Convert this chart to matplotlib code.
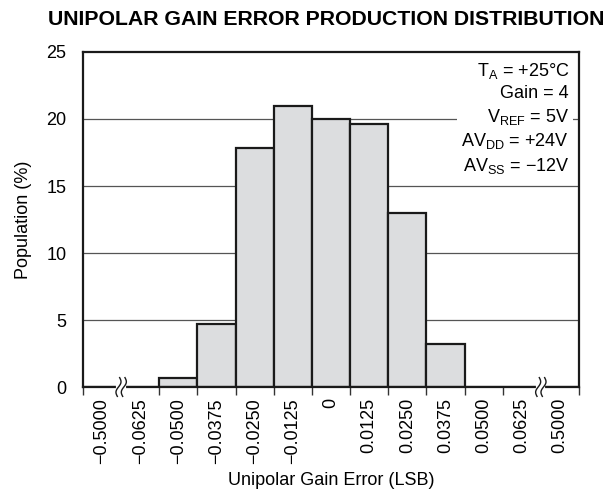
import numpy as np
import matplotlib
matplotlib.use('Agg')
import matplotlib.pyplot as plt
import matplotlib.transforms as mtransforms

plt.rcParams['font.family'] = ['Liberation Sans', 'DejaVu Sans']
plt.rcParams['mathtext.default'] = 'regular'

# gain error bins (LSB) and share of parts in each bin
bins = ['\u22120.5000', '\u22120.0625', '\u22120.0500', '\u22120.0375', '\u22120.0250',
        '\u22120.0125', '0', '0.0125', '0.0250', '0.0375', '0.0500', '0.0625', '0.5000']
population = [0, 0, 0.7, 4.7, 17.8, 21.0, 20.0, 19.6, 13.0, 3.2, 0, 0, 0]
breaks = [0.5, 11.5]
conds = ('T$_A$ = +25\u00b0C\nGain = 4\nV$_{REF}$ = 5V\n'
         'AV$_{DD}$ = +24V\nAV$_{SS}$ = \u221212V')

fig = plt.figure(figsize=(6.09, 4.91), dpi=100)
ax = fig.add_axes([0.1363, 0.2118, 0.8144, 0.6823])

x = np.arange(len(bins))
for g in [5, 10, 15, 20]:
    ax.axhline(g, color='#555555', lw=0.9, zorder=1)
ax.bar(x, population, width=1.0, color='#dcdddf', edgecolor='#1a1a1a',
       linewidth=1.6, zorder=2)

ax.set_xlim(-0.5, len(bins) - 0.5)
ax.set_ylim(0, 25)
ax.set_yticks([0, 5, 10, 15, 20, 25])
ax.tick_params(axis='y', length=0, labelsize=13, pad=12)
ax.set_xticks(x)
ax.set_xticklabels(bins, rotation=90, fontsize=13)
ax.tick_params(axis='x', which='major', length=0, pad=8)
edges = [e - 0.5 for e in range(len(bins) + 1) if (e - 0.5) not in breaks]
ax.set_xticks(edges, minor=True)
ax.tick_params(axis='x', which='minor', length=6, width=1.0, color='#333333')
for s in ax.spines.values():
    s.set_linewidth(1.6)
    s.set_color('#1a1a1a')

# axis break marks
bt = mtransforms.blended_transform_factory(ax.transData, ax.transAxes)
t = np.linspace(-1, 1, 40)
for b in breaks:
    ax.plot([b - 0.07, b + 0.07], [0, 0], color='white', lw=3, transform=bt,
            clip_on=False, zorder=5)
    for off in (-0.07, 0.07):
        ax.plot(b + off + 0.05 * np.sin(np.pi * t) + 0.03 * t, 0.028 * t,
                color='#1a1a1a', lw=1.0, transform=bt, clip_on=False, zorder=6)

ax.text(0.98, 0.972, conds, transform=ax.transAxes, ha='right', va='top',
        fontsize=13, linespacing=1.3, zorder=4,
        bbox=dict(facecolor='white', edgecolor='none', pad=3))

ax.set_ylabel('Population (%)', fontsize=13, labelpad=10)
fig.text(0.5435, 0.022, 'Unipolar Gain Error (LSB)', fontsize=13,
         ha='center', va='center')
fig.suptitle('UNIPOLAR GAIN ERROR PRODUCTION DISTRIBUTION', fontsize=15.3,
             fontweight='bold', x=0.535, y=0.98)

fig.savefig('out.png', dpi=100)
